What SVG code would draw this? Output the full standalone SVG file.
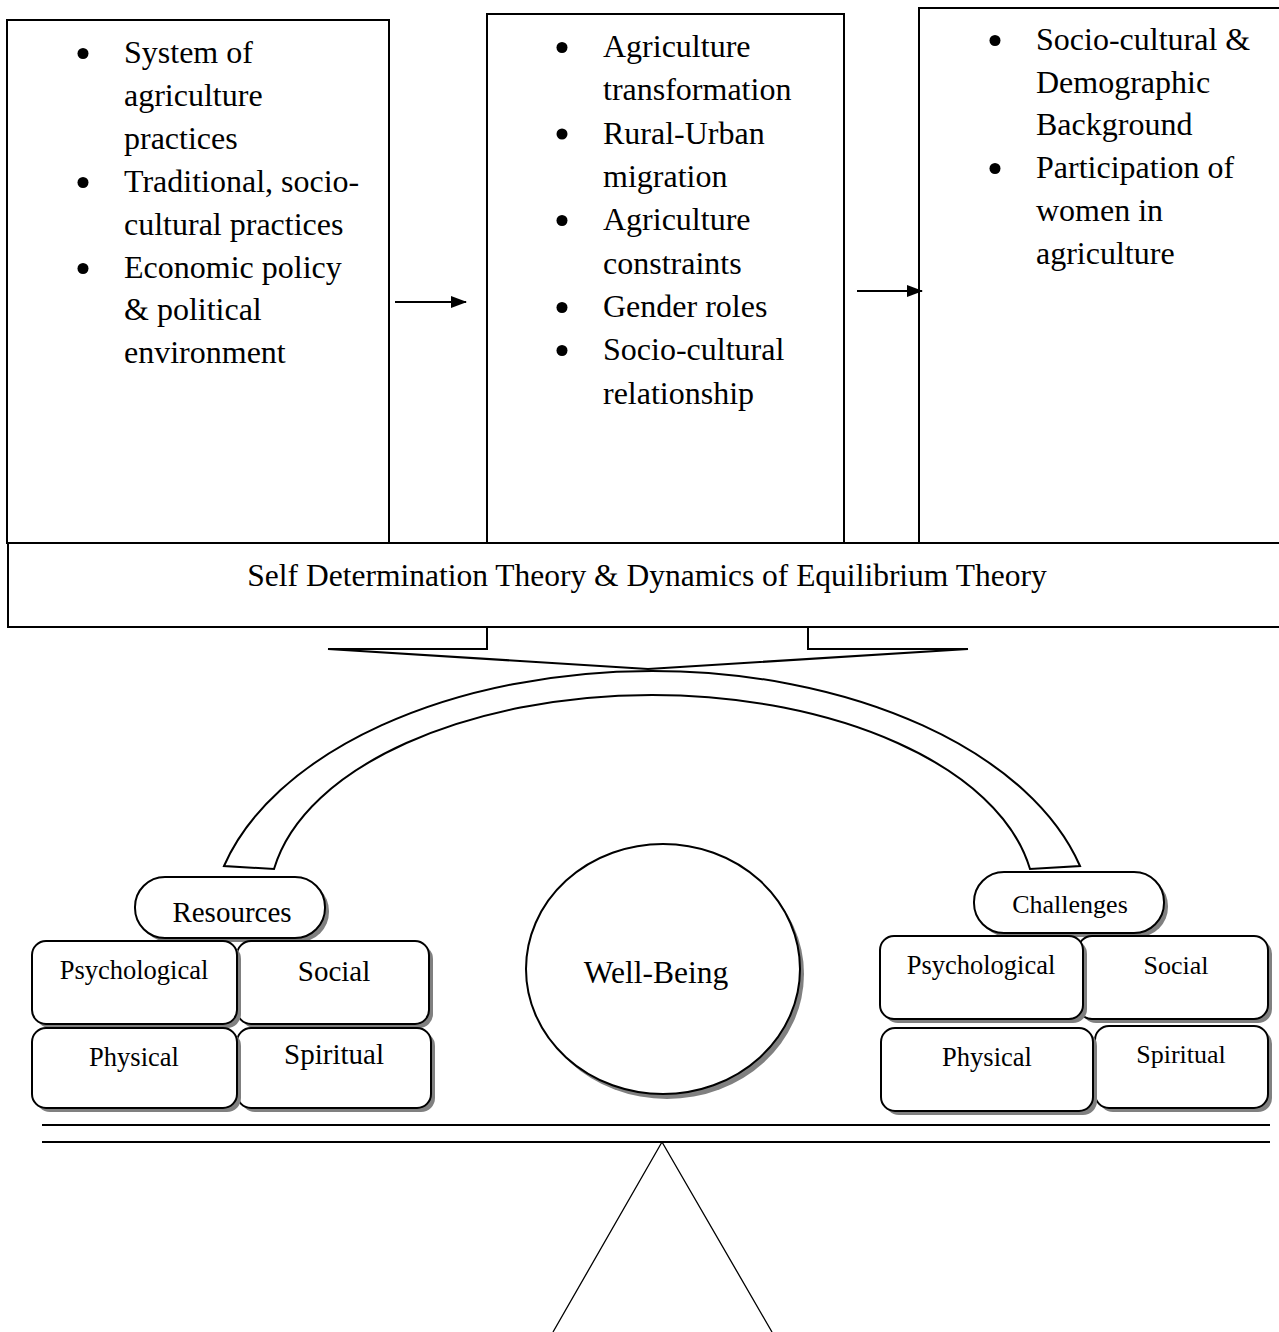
<svg xmlns="http://www.w3.org/2000/svg" width="1279" height="1332" viewBox="0 0 1279 1332">
  <defs>
    <style>
      .t{font-family:"Liberation Serif","Times New Roman",serif;fill:#000}
      .list{font-size:32px}
      .frame{fill:#fff;stroke:#000;stroke-width:2}
      .card{fill:#fff;stroke:#000;stroke-width:2}
      .shadow{fill:#808080;stroke:none}
      .ln{fill:none;stroke:#000;stroke-width:2}
      .thin{fill:none;stroke:#000;stroke-width:1.3}
      .mid{text-anchor:middle}
    </style>
    <marker id="ah" viewBox="0 0 16 12" refX="15" refY="6" markerWidth="16" markerHeight="12" markerUnits="userSpaceOnUse" orient="auto">
      <path d="M0,0 L16,6 L0,12 z" fill="#000"/>
    </marker>
  </defs>
  <rect width="1279" height="1332" fill="#fff"/>

  <!-- upper column boxes -->
  <g id="context-box">
    <rect class="frame" x="7" y="20" width="382" height="523"/>
    <g fill="#000">
      <circle cx="83" cy="53.5" r="5.5"/>
      <circle cx="83" cy="182.5" r="5.5"/>
      <circle cx="83" cy="268.5" r="5.5"/>
    </g>
    <text class="t list" x="124" y="63">System of</text>
    <text class="t list" x="124" y="106">agriculture</text>
    <text class="t list" x="124" y="149">practices</text>
    <text class="t list" x="124" y="192">Traditional, socio-</text>
    <text class="t list" x="124" y="235">cultural practices</text>
    <text class="t list" x="124" y="278">Economic policy</text>
    <text class="t list" x="124" y="320">&amp; political</text>
    <text class="t list" x="124" y="363">environment</text>
  </g>

  <g id="change-box">
    <rect class="frame" x="487" y="14" width="357" height="529"/>
    <g fill="#000">
      <circle cx="562" cy="47.5" r="5.5"/>
      <circle cx="562" cy="134" r="5.5"/>
      <circle cx="562" cy="220.5" r="5.5"/>
      <circle cx="562" cy="307.5" r="5.5"/>
      <circle cx="562" cy="350.5" r="5.5"/>
    </g>
    <text class="t list" x="603" y="57">Agriculture</text>
    <text class="t list" x="603" y="100">transformation</text>
    <text class="t list" x="603" y="143.5">Rural-Urban</text>
    <text class="t list" x="603" y="187">migration</text>
    <text class="t list" x="603" y="230">Agriculture</text>
    <text class="t list" x="603" y="273.5">constraints</text>
    <text class="t list" x="603" y="317">Gender roles</text>
    <text class="t list" x="603" y="360">Socio-cultural</text>
    <text class="t list" x="603" y="403.5">relationship</text>
  </g>

  <g id="participation-box">
    <rect class="frame" x="919" y="8" width="400" height="535"/>
    <g fill="#000">
      <circle cx="995" cy="40.5" r="5.5"/>
      <circle cx="995" cy="168.5" r="5.5"/>
    </g>
    <text class="t list" x="1036" y="50">Socio-cultural &amp;</text>
    <text class="t list" x="1036" y="92.7">Demographic</text>
    <text class="t list" x="1036" y="135.4">Background</text>
    <text class="t list" x="1036" y="178">Participation of</text>
    <text class="t list" x="1036" y="221">women in</text>
    <text class="t list" x="1036" y="263.6">agriculture</text>
  </g>

  <!-- theory band -->
  <g id="theory-box">
    <rect class="frame" x="8" y="543" width="1290" height="84"/>
    <text class="t mid" x="647" y="586" font-size="31.5">Self Determination Theory &amp; Dynamics of Equilibrium Theory</text>
  </g>

  <!-- links between the parts -->
  <g id="connectors">
    <line class="ln" x1="395" y1="302" x2="466" y2="302" marker-end="url(#ah)"/>
    <line class="ln" x1="857" y1="291" x2="922" y2="291" marker-end="url(#ah)"/>
    <path class="ln" d="M487,627 V649 H328 L648,669 L968,649 H808 V627"/>
    <path class="ln" stroke-linejoin="miter" d="M224,866 A442,260 0 0 1 1080,866 L1030,869 C999,765 834,695 652,695 C470,695 305,765 274,869 Z"/>
  </g>

  <!-- resources side -->
  <g id="resources">
    <rect class="shadow" x="139" y="881" width="190" height="61" rx="30"/>
    <rect class="card" x="135" y="877" width="190" height="61" rx="30"/>
    <text class="t mid" x="232" y="922" font-size="29">Resources</text>
  </g>
  <g id="res-social">
    <rect class="shadow" x="241" y="945" width="192" height="83" rx="14"/>
    <rect class="card" x="237" y="941" width="192" height="83" rx="14"/>
    <text class="t mid" x="334" y="981" font-size="29">Social</text>
  </g>
  <g id="res-psychological">
    <rect class="shadow" x="36" y="945" width="205" height="83" rx="14"/>
    <rect class="card" x="32" y="941" width="205" height="83" rx="14"/>
    <text class="t mid" x="134" y="979" font-size="26.5">Psychological</text>
  </g>
  <g id="res-spiritual">
    <rect class="shadow" x="241" y="1032" width="194" height="80" rx="14"/>
    <rect class="card" x="237" y="1028" width="194" height="80" rx="14"/>
    <text class="t mid" x="334" y="1064" font-size="29">Spiritual</text>
  </g>
  <g id="res-physical">
    <rect class="shadow" x="36" y="1032" width="205" height="80" rx="14"/>
    <rect class="card" x="32" y="1028" width="205" height="80" rx="14"/>
    <text class="t mid" x="134" y="1066" font-size="26.5">Physical</text>
  </g>

  <!-- centre -->
  <g id="well-being">
    <ellipse class="shadow" cx="667" cy="974" rx="137" ry="125"/>
    <ellipse class="card" cx="663" cy="969" rx="137" ry="125"/>
    <text class="t mid" x="656" y="983" font-size="31.5">Well-Being</text>
  </g>

  <!-- challenges side -->
  <g id="challenges">
    <rect class="shadow" x="978" y="876" width="190" height="61" rx="30"/>
    <rect class="card" x="974" y="872" width="190" height="61" rx="30"/>
    <text class="t mid" x="1070" y="913" font-size="26">Challenges</text>
  </g>
  <g id="chal-social">
    <rect class="shadow" x="1082" y="940" width="190" height="83" rx="14"/>
    <rect class="card" x="1078" y="936" width="190" height="83" rx="14"/>
    <text class="t mid" x="1176" y="974" font-size="26">Social</text>
  </g>
  <g id="chal-psychological">
    <rect class="shadow" x="884" y="940" width="203" height="83" rx="14"/>
    <rect class="card" x="880" y="936" width="203" height="83" rx="14"/>
    <text class="t mid" x="981" y="974" font-size="26.5">Psychological</text>
  </g>
  <g id="chal-spiritual">
    <rect class="shadow" x="1099" y="1030" width="173" height="82" rx="14"/>
    <rect class="card" x="1095" y="1026" width="173" height="82" rx="14"/>
    <text class="t mid" x="1181" y="1063" font-size="26">Spiritual</text>
  </g>
  <g id="chal-physical">
    <rect class="shadow" x="885" y="1032" width="212" height="83" rx="14"/>
    <rect class="card" x="881" y="1028" width="212" height="83" rx="14"/>
    <text class="t mid" x="987" y="1066" font-size="26.5">Physical</text>
  </g>

  <!-- balance beam and fulcrum -->
  <g id="balance">
    <line class="ln" x1="42" y1="1125" x2="1270" y2="1125"/>
    <line class="ln" x1="42" y1="1142" x2="1270" y2="1142"/>
    <polyline class="thin" points="553,1332 662,1142 772,1332"/>
  </g>
</svg>
